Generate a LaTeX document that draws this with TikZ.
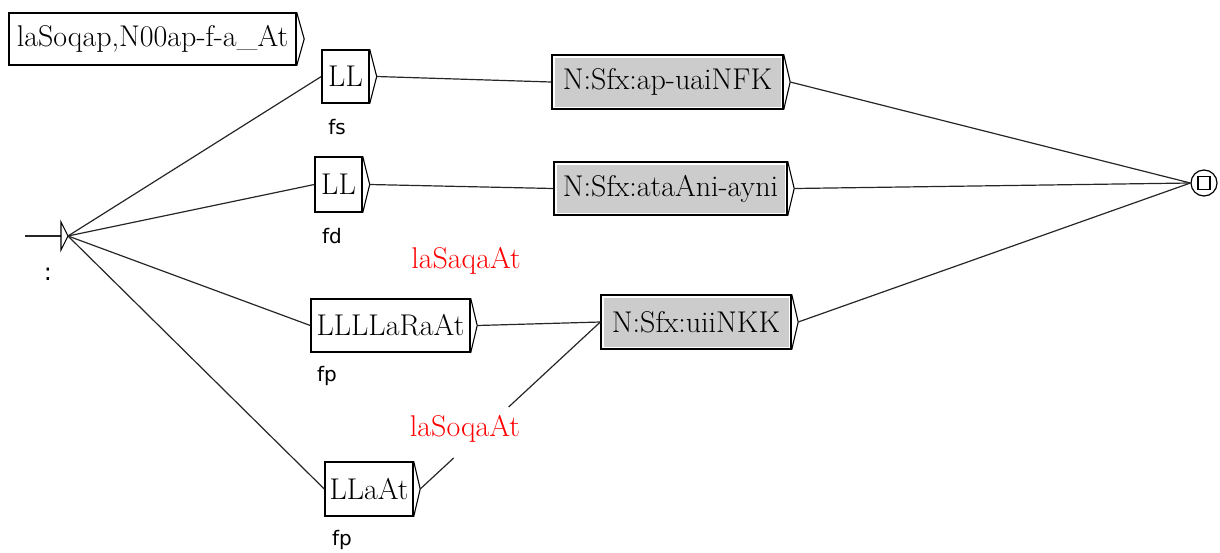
\documentclass[tikz,border=0pt]{standalone}
\usepackage{fontspec}
\newfontfamily\lblfont{DejaVu Sans}
\usetikzlibrary{calc}
\tikzset{
  lnk/.style={line width=1.2pt, draw=black!85},
  bx/.style={draw=black, line width=1.4pt, inner sep=0pt, fill=white, font=\fontsize{30}{33}\selectfont},
  gbx/.style={bx, path picture={\fill[black!20] ([shift={(2.5pt,-2.5pt)}]path picture bounding box.north west) rectangle ([shift={(-2.5pt,2.5pt)}]path picture bounding box.south east);}},
  lbl/.style={font=\lblfont\fontsize{20}{22}\selectfont, inner sep=0pt},
  outlbl/.style={text=red, font=\fontsize{30}{33}\selectfont, inner sep=0pt},
}
\newcommand\chev[2][6.5]{\draw[line width=1.1pt] (#2.north east) -- ([xshift=#1pt]#2.east) coordinate (#2o) -- (#2.south east);}
\begin{document}
\begin{tikzpicture}[x=1pt,y=-1pt]
\useasboundingbox (0,0) rectangle (1220,552);
% comment box
\node[bx, minimum width=287pt, minimum height=52pt] (cm) at (152.5,39) {laSoqap,N00ap-f-a\_At};
\chev[7.5]{cm}
% boxes
\node[bx, minimum width=47pt, minimum height=53pt] (a) at (345.5,76.5) {LL};
\node[bx, minimum width=47pt, minimum height=55pt] (b) at (338.5,184.5) {LL};
\node[bx, minimum width=159pt, minimum height=53pt] (c) at (390.5,325.5) {LLLLaRaAt};
\node[bx, minimum width=88pt, minimum height=54pt] (d) at (369,489) {LLaAt};
\node[gbx, minimum width=231pt, minimum height=54pt] (e) at (667.5,82) {N:Sfx:ap-uaiNFK};
\node[gbx, minimum width=233pt, minimum height=53pt] (f) at (670.5,188.5) {N:Sfx:ataAni-ayni};
\node[gbx, minimum width=190pt, minimum height=54pt] (g) at (696,322) {N:Sfx:uiiNKK};
\chev[7]{a}\chev[7]{b}\chev{c}\chev{d}\chev{e}\chev{f}\chev{g}
% final state
\node[draw, circle, line width=1.2pt, minimum size=26pt, inner sep=0pt] (fin) at (1204,183) {};
\draw[line width=1.2pt] (fin.center) +(-6,-6.5) rectangle +(6,6.5);
% initial state
\coordinate (init) at (68,236);
\coordinate (i0) at (25,236);
\draw[lnk] (i0) -- ($(init)+(-7,0)$);
\draw[line width=1.1pt, fill=white] (init) -- ++(-7,-14) -- ++(0,28) -- cycle;
% labels
\node[lbl] (ls) at (337,127) {fs};
\node[lbl] (ld) at (332,236) {fd};
\node[lbl] (lp1) at (327,376) {fp};
\node[lbl] (lp2) at (342,540) {fp};
\node[lbl, font=\lblfont\fontsize{24}{26}\selectfont] (lc) at (48,274) {:};
\node[outlbl] (r1) at (466,261) {laSaqaAt};
\node[outlbl] (r2) at (465,429) {laSoqaAt};
% connectors
\draw[lnk] (init) -- (a.west);
\draw[lnk] (init) -- (b.west);
\draw[lnk] (init) -- (c.west);
\draw[lnk] (init) -- (d.west);
\draw[lnk] (ao) -- (e.west);
\draw[lnk] (bo) -- (f.west);
\draw[lnk] (co) -- (g.west);
\coordinate (g1) at ($(do)!0.186!(g.west)$);
\coordinate (g2) at ($(do)!0.491!(g.west)$);
\draw[lnk] (do) -- (g1);
\draw[lnk] (g2) -- (g.west);
\draw[lnk] (eo) -- (fin.west);
\draw[lnk] (fo) -- (fin.west);
\draw[lnk] (go) -- (fin.west);
\end{tikzpicture}
\end{document}
